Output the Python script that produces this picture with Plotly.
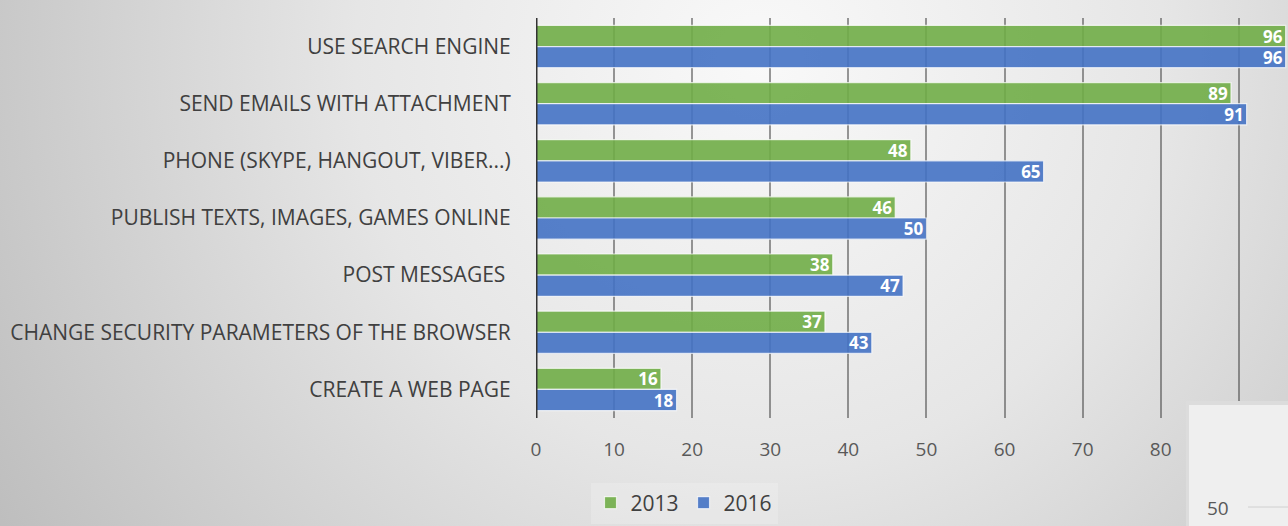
import plotly.graph_objects as go
import base64

# --- data -------------------------------------------------------------
categories = [
    "USE SEARCH ENGINE",
    "SEND EMAILS WITH ATTACHMENT",
    "PHONE (SKYPE, HANGOUT, VIBER...)",
    "PUBLISH TEXTS, IMAGES, GAMES ONLINE",
    "POST MESSAGES ",
    "CHANGE SECURITY PARAMETERS OF THE BROWSER",
    "CREATE A WEB PAGE",
]
values_2013 = [96, 89, 48, 46, 38, 37, 16]
values_2016 = [96, 91, 65, 50, 47, 43, 18]
x_ticks = [0, 10, 20, 30, 40, 50, 60, 70, 80, 90]

# --- geometry ---------------------------------------------------------
W, H = 1288, 526
ML, MR, MT, MB = 536, 0, 18, 108
PW, PH = W - ML - MR, H - MT - MB


def px_x(x):
    return (x - ML) / PW


def px_y(y):
    return (H - MB - y) / PH


FONT = "Open Sans"
GREEN = "rgba(112,173,71,0.9)"
BLUE = "rgba(68,114,196,0.9)"

# soft radial grey backdrop
svg = f"""<svg xmlns='http://www.w3.org/2000/svg' width='{W}' height='{H}'>
<defs><radialGradient id='g' cx='760' cy='60' r='900' gradientUnits='userSpaceOnUse'>
<stop offset='0' stop-color='#f9f9f9'/>
<stop offset='0.45' stop-color='#e6e6e6'/>
<stop offset='1' stop-color='#bdbdbd'/>
</radialGradient></defs>
<rect width='{W}' height='{H}' fill='url(#g)'/></svg>"""
bg_uri = "data:image/svg+xml;base64," + base64.b64encode(svg.encode()).decode()

label_font = dict(color="white", size=17, family=FONT, weight="bold")

fig = go.Figure()
fig.add_trace(go.Bar(
    y=categories, x=values_2013, name="2013", orientation="h",
    marker=dict(color=GREEN, line=dict(color="rgba(255,255,255,0.7)", width=1.2)),
    text=values_2013, textposition="inside", insidetextanchor="end",
    constraintext="none", textfont=label_font, textangle=0,
))
fig.add_trace(go.Bar(
    y=categories, x=values_2016, name="2016", orientation="h",
    marker=dict(color=BLUE, line=dict(color="rgba(255,255,255,0.7)", width=1.2)),
    text=values_2016, textposition="inside", insidetextanchor="end",
    constraintext="none", textfont=label_font, textangle=0,
))

shapes = [
    # vertical axis line
    dict(type="line", xref="x", yref="paper", x0=0, x1=0, y0=0, y1=1,
         line=dict(color="#333333", width=3), layer="above"),
    # overlapping panel in the lower right corner
    dict(type="rect", xref="paper", yref="paper",
         x0=px_x(1186), x1=px_x(1292), y0=px_y(530), y1=px_y(401),
         fillcolor="#dcdcdc", line=dict(width=0), layer="above"),
    dict(type="rect", xref="paper", yref="paper",
         x0=px_x(1189), x1=px_x(1292), y0=px_y(530), y1=px_y(405),
         fillcolor="#efefef", line=dict(width=0), layer="above"),
    dict(type="line", xref="paper", yref="paper",
         x0=px_x(1248), x1=px_x(1290), y0=px_y(507), y1=px_y(507),
         line=dict(color="#d0d0d0", width=1), layer="above"),
]

annotations = [
    dict(text="50", xref="paper", yref="paper", x=px_x(1218), y=px_y(508),
         showarrow=False, font=dict(family=FONT, size=19, color="#595959"),
         xanchor="center", yanchor="middle"),
]

fig.update_layout(
    width=W, height=H,
    margin=dict(l=ML, r=MR, t=MT, b=MB, pad=0),
    barmode="group", bargap=0.26, bargroupgap=0,
    paper_bgcolor="#e2e2e2", plot_bgcolor="rgba(0,0,0,0)",
    font=dict(family=FONT, size=18, color="#404040"),
    images=[dict(source=bg_uri, xref="paper", yref="paper",
                 x=px_x(0), y=px_y(0), sizex=W / PW, sizey=H / PH,
                 xanchor="left", yanchor="top", sizing="stretch",
                 layer="below")],
    xaxis=dict(range=[0, 96.3], tickvals=x_ticks, showgrid=True,
               gridcolor="rgba(70,70,70,0.55)", gridwidth=1.5,
               zeroline=False, showline=False,
               ticks="outside", ticklen=14, tickcolor="rgba(0,0,0,0)",
               tickfont=dict(family=FONT, size=19, color="#595959")),
    yaxis=dict(autorange="reversed", showgrid=False, zeroline=False,
               showline=False, ticks="outside", ticklen=20,
               tickcolor="rgba(0,0,0,0)",
               tickfont=dict(family=FONT, size=21, color="#404040")),
    legend=dict(orientation="h", x=px_x(684), y=px_y(503),
                xanchor="center", yanchor="middle",
                bgcolor="rgba(255,255,255,0.2)",
                font=dict(family=FONT, size=21, color="#404040"),
                traceorder="normal", itemwidth=30),
    shapes=shapes, annotations=annotations,
    showlegend=True,
)

fig.write_html("out.html")
